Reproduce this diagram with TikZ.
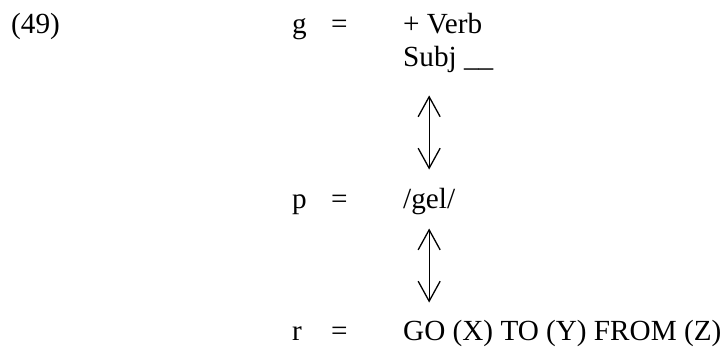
\documentclass[tikz,border=0pt]{standalone}
\usepackage{fontspec}
\setmainfont{Liberation Serif}
\usepackage{tikz}
\usetikzlibrary{arrows.meta,positioning}

\begin{document}
\begin{tikzpicture}[x=1pt, y=-1pt,
    txt/.style={anchor=base west, inner sep=0pt, font=\fontsize{29.2}{33}\selectfont},
    updown/.style={{Straight Barb[length=20pt,width=22pt]}-{Straight Barb[length=20pt,width=22pt]}, line width=1.3pt}]
  \useasboundingbox (0,0) rectangle (725,351);
  % example number
  \node[txt] (num) at (11,33) {(49)};
  % left column: level labels
  \node[txt] (g) at (292,33) {g};
  \node[txt] (p) at (292,208) {p};
  \node[txt] (r) at (292,340) {r};
  \foreach \n/\y in {g/33, p/208, r/340}
    \node[txt] (eq\n) at (331,\y) {=};
  % right column
  \node[txt] (verb) at (403,33) {+ Verb};
  \node[txt] (subj) at (403,66) {Subj \_\_};
  \node[txt] (gel) at (403,208) {/gel/};
  \node[txt] (go) at (403,340) {GO (X) TO (Y) FROM (Z)};
  % correspondence arrows
  \draw[updown, shorten <=23pt, shorten >=18pt] (gel.north |- subj.south) -- (gel.north);
  \draw[updown, shorten <=14pt, shorten >=17pt] (gel.south) -- (gel.south |- go.north);
\end{tikzpicture}
\end{document}
